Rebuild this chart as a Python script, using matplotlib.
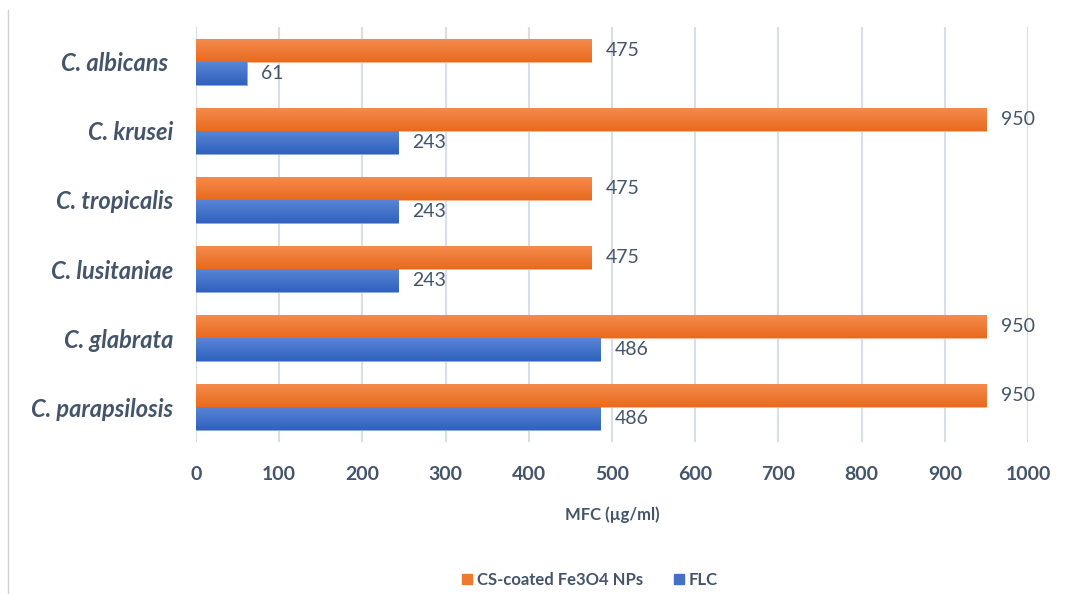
import numpy as np
import matplotlib.pyplot as plt
from matplotlib.patches import Patch
from matplotlib.lines import Line2D
from matplotlib.colors import LinearSegmentedColormap

species = ["C. albicans ", "C. krusei", "C. tropicalis",
           "C. lusitaniae", "C. glabrata", "C. parapsilosis"]
cs_fe3o4 = [475, 950, 475, 475, 950, 950]
flc = [61, 243, 243, 243, 486, 486]
xticks = [0, 100, 200, 300, 400, 500, 600, 700, 800, 900, 1000]

orange = "#EE7A2F"
blue = "#4470C6"
txt = "#44546A"
orange_cmap = LinearSegmentedColormap.from_list("og", ["#F48C4E", "#E96A1E"])
blue_cmap = LinearSegmentedColormap.from_list("bg", ["#5A86D6", "#2F62BE"])

plt.rcParams["font.family"] = ["Lato", "DejaVu Sans"]

fig = plt.figure(figsize=(10.68, 5.94), dpi=100)
ax = fig.add_axes([196 / 1068, 1 - 442 / 594, (1028 - 196) / 1068, (442 - 27) / 594])


def gradient_bars(bars, cmap):
    # paint each bar with a top-to-bottom shade, clipped to the bar shape
    grad = np.linspace(0, 1, 64).reshape(-1, 1)
    for b in bars:
        x0, y0 = b.get_x(), b.get_y()
        w, hh = b.get_width(), b.get_height()
        im = ax.imshow(grad, cmap=cmap, aspect="auto", origin="upper",
                       extent=[x0, x0 + w, y0 + hh, y0], zorder=3.5)
        im.set_clip_path(b)


y = np.arange(len(species))
h = 0.333
b1 = ax.barh(y - h / 2, cs_fe3o4, height=h, color=orange, edgecolor="#F5B98E", linewidth=0.6,
             label="CS-coated Fe3O4 NPs", zorder=3)
b2 = ax.barh(y + h / 2, flc, height=h, color=blue, edgecolor="#8FA9DD", linewidth=0.6,
             label="FLC", zorder=3)
gradient_bars(b1, orange_cmap)
gradient_bars(b2, blue_cmap)

for yi, v in zip(y, cs_fe3o4):
    ax.text(v + 17, yi - h / 2, str(v), va="center", ha="left", fontsize=14, color=txt)
for yi, v in zip(y, flc):
    ax.text(v + 17, yi + h / 2, str(v), va="center", ha="left", fontsize=14, color=txt)

ax.set_xlim(0, 1000)
ax.set_ylim(len(species) - 0.5, -0.5)
ax.set_xticks(xticks)
ax.set_xticklabels([str(t) for t in xticks], fontsize=14, color=txt, fontweight="bold")
ax.set_yticks(y)
ax.set_yticklabels(species, fontsize=17, color=txt, fontweight="bold", fontstyle="italic")
ax.tick_params(axis="both", length=0)
ax.tick_params(axis="x", pad=17)
ax.tick_params(axis="y", pad=16.5)
ax.xaxis.grid(True, color="#D9DEE6", linewidth=1.5, zorder=0)
for s in ax.spines.values():
    s.set_visible(False)

ax.set_xlabel("MFC (µg/ml)", fontsize=12, color=txt, fontweight="bold", labelpad=17)

# thin frame line on the left edge of the figure
fig.add_artist(Line2D([8 / 1068, 8 / 1068], [0, 1 - 10 / 594], color="#D0D0D0", linewidth=1))

handles = [Patch(color=orange, label="CS-coated Fe3O4 NPs"), Patch(color=blue, label="FLC")]
leg = fig.legend(handles=handles, loc="center", bbox_to_anchor=(590 / 1068, 1 - 580 / 594), ncol=2,
                 frameon=False, fontsize=12, handlelength=0.6, handleheight=0.6,
                 handletextpad=0.3, columnspacing=1.8, labelcolor=txt,
                 prop={"weight": "bold", "size": 12})

fig.savefig("out.png", dpi=100)
